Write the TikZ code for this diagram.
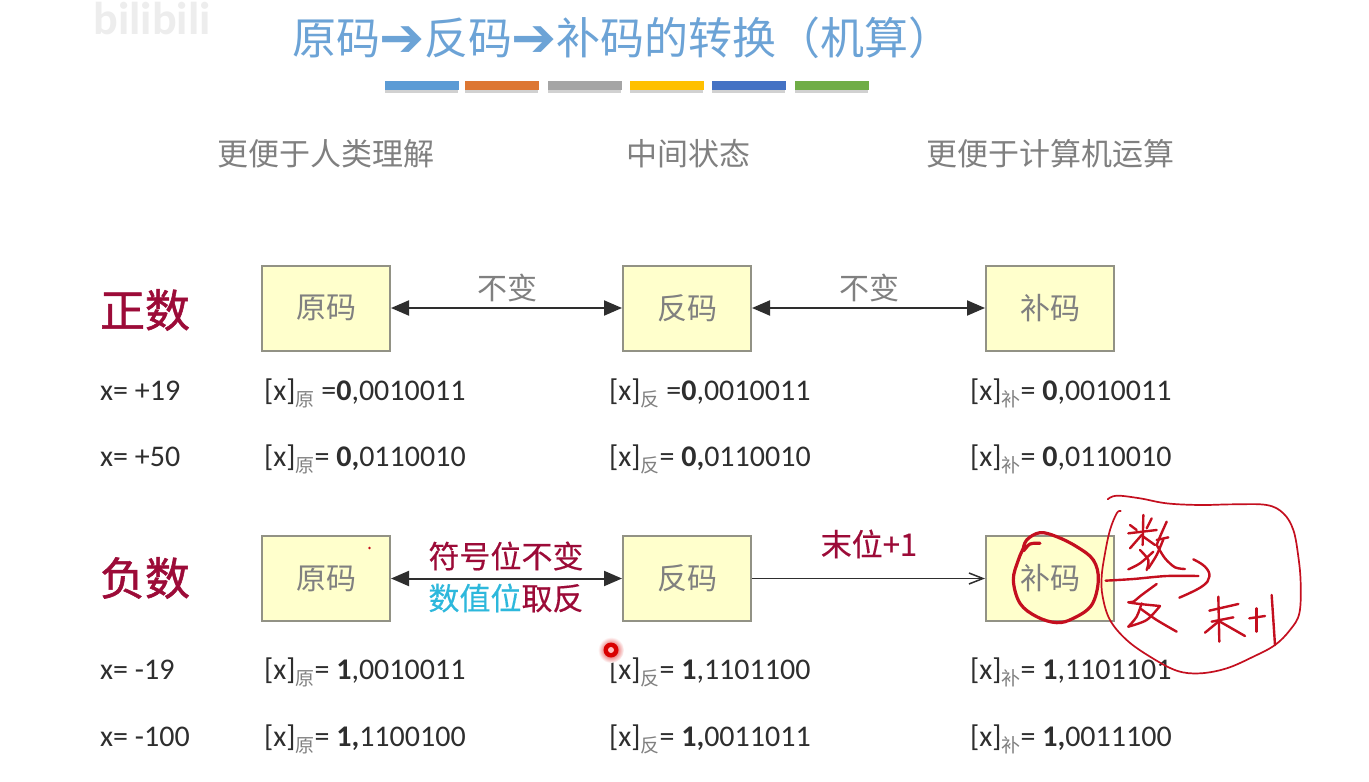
\documentclass[tikz,border=0pt]{standalone}
\usepackage{fontspec}
\setmainfont{Carlito}
\newfontfamily\cjk{Noto Sans CJK SC}
\newfontfamily\cjkm[FakeBold=0.35]{Noto Sans CJK SC}
\newfontfamily\cjkb[FakeBold=1.2]{Noto Sans CJK SC}
\newfontfamily\djv{DejaVu Sans}
\usetikzlibrary{arrows.meta}
\definecolor{titleblue}{HTML}{6CA3D6}
\definecolor{graytxt}{HTML}{808080}
\definecolor{darkred}{HTML}{9C0B38}
\definecolor{cyantxt}{HTML}{2DB8DC}
\definecolor{boxfill}{HTML}{FFFFCC}
\definecolor{boxline}{HTML}{929285}
\definecolor{ink}{HTML}{2E2E2E}
\definecolor{pen}{HTML}{C40F1F}
\newcommand{\sz}[1]{\fontsize{#1}{#1}\selectfont}
\newcommand{\subm}[1]{\raisebox{-6pt}{\sz{19}\cjk\textcolor{graytxt}{#1}}}
\newcommand{\tarr}{\makebox[44pt]{\djv\bfseries\sz{54}\raisebox{-2pt}{➔}}}
\tikzset{
  x=1pt,y=-1pt,
  codebox/.style={draw=boxline,line width=2pt,fill=boxfill,minimum width=128pt,minimum height=85pt,inner sep=0pt,outer sep=1pt,text=graytxt,font=\cjk\sz{30}},
  head/.style={anchor=center,text=graytxt,font=\cjk\sz{31},inner sep=0pt},
  rowlabel/.style={anchor=center,text=darkred,font=\cjkb\sz{45},inner sep=0pt},
  val/.style={anchor=base west,text=ink,font=\sz{30},inner sep=0pt},
  lab/.style={anchor=center,text=graytxt,font=\cjk\sz{30},inner sep=0pt},
  redlab/.style={anchor=center,text=darkred,font=\cjkm\sz{31},inner sep=0pt},
  both/.style={{Triangle[length=18pt,width=15pt]}-{Triangle[length=18pt,width=15pt]},line width=2pt,draw=ink,fill=black},
  thinarr/.style={-{Straight Barb[length=14pt,width=11pt]},line width=1.5pt,draw=ink},
  bar/.style={minimum width=74pt,minimum height=9pt,inner sep=0pt,anchor=north west},
  stroke/.style={draw=pen,line width=2.4pt,line cap=round,line join=round},
}
\begin{document}
\begin{tikzpicture}
\useasboundingbox (0,0) rectangle (1369,782);
\fill[white] (0,0) rectangle (1369,782);
% watermark
\node[anchor=center,text=black!7,font=\bfseries\sz{46},inner sep=0pt] (wm) at (152,19) {bilibili};
% title
\node[anchor=west,text=titleblue,font=\cjk\sz{44},inner sep=0pt] (title) at (292,38) {原码\tarr 反码\tarr 补码的转换（机算）};
% bars
\foreach \xx/\cc [count=\i] in {385/5B9BD5,465/DD7733,548/A5A5A5,630/FFC000,712/4472C4,795/70AD47}{
  \definecolor{barcol}{HTML}{\cc}
  \fill[black!18] (\xx,84) rectangle (\xx+73,93);
  \node[bar,fill=barcol] (bar\i) at (\xx,80.5) {};
}
% column heads
\node[head] (h1) at (326,154) {更便于人类理解};
\node[head] (h2) at (688,154) {中间状态};
\node[head] (h3) at (1050,154) {更便于计算机运算};
% row labels
\node[rowlabel] (pos) at (145,310) {正数};
\node[rowlabel] (neg) at (145,578) {负数};
% boxes
\node[codebox] (a1) at (326,308) {原码};
\node[codebox] (b1) at (687,308) {反码};
\node[codebox] (c1) at (1050,308) {补码};
\node[codebox] (a2) at (326,578.5) {原码};
\node[codebox] (b2) at (687,578.5) {反码};
\node[codebox] (c2) at (1050,578.5) {补码};
% connectors
\draw[both] (a1) -- (b1);
\draw[both] (b1) -- (c1);
\draw[both] (a2) -- (b2);
\draw[thinarr] (b2) -- (c2);
% connector labels
\node[lab] (l1) at (507,288) {不变};
\node[lab] (l2) at (869,288) {不变};
\node[redlab] (l3) at (506,556) {符号位不变};
\node[redlab] (l4) at (506,598) {\textcolor{cyantxt}{数值位}取反};
\node[redlab] (l5) at (869,544) {末位+1};
% values
\node[val] (v11) at (100,400) {x= +19};
\node[val] (v12) at (100,466) {x= +50};
\node[val] (v13) at (100,679) {x= -19};
\node[val] (v14) at (100,746) {x= -100};
\node[val] (v21) at (264,400) {[x]\subm{原} =\textbf{0},0010011};
\node[val] (v22) at (264,466) {[x]\subm{原}= \textbf{0,}0110010};
\node[val] (v23) at (264,679) {[x]\subm{原}= \textbf{1},0010011};
\node[val] (v24) at (264,746) {[x]\subm{原}= \textbf{1,}1100100};
\node[val] (v31) at (609,400) {[x]\subm{反} =\textbf{0},0010011};
\node[val] (v32) at (609,466) {[x]\subm{反}= \textbf{0,}0110010};
\node[val] (v33) at (609,679) {[x]\subm{反}= \textbf{1},1101100};
\node[val] (v34) at (609,746) {[x]\subm{反}= \textbf{1,}0011011};
\node[val] (v41) at (970,400) {[x]\subm{补}= \textbf{0},0010011};
\node[val] (v42) at (970,466) {[x]\subm{补}= \textbf{0},0110010};
\node[val] (v43) at (970,679) {[x]\subm{补}= \textbf{1},1101101};
\node[val] (v44) at (970,746) {[x]\subm{补}= \textbf{1,}0011100};
% laser pointer and speck
\shade[inner color=red!85!black,outer color=white] (611,650) circle (13);
\fill[red!85!black] (611,650) circle (7.5);
\fill[red!25!white] (611,650) circle (3);
\fill[pen] (369.5,548) circle (1.3);
% handwriting, in zoom coordinates
\begin{scope}[shift={(960,480)},x=0.33333pt,y=-0.33333pt]
\draw[stroke,line width=1.7pt] plot[smooth,tension=0.6] coordinates {(443,58)(470,47)(540,55)(620,70)(720,75)(820,73)(920,75)(970,100)(1000,150)(1015,230)(1022,310)(1018,400)(990,450)(945,495)(880,530)(800,565)(720,580)(650,572)(570,530)(500,480)(450,420)(428,350)(425,290)(435,220)(450,150)(470,100)(482,93)};
\draw[stroke,line width=3.2pt] plot[smooth,tension=0.6] coordinates {(240,190)(210,192)(190,212)(200,180)(240,158)(290,170)(350,200)(400,240)(415,300)(395,375)(340,415)(290,428)(230,410)(180,370)(160,300)(175,240)(190,205)};
\draw[stroke] plot[smooth] coordinates {(437,302)(520,297)(620,288)(715,288)};
\draw[stroke] plot[smooth,tension=0.7] coordinates {(700,238)(735,260)(748,290)(725,320)(658,353)};
% shu
\draw[stroke] (510,135)--(530,150);
\draw[stroke] (575,115)--(560,145);
\draw[stroke] (505,160)--(590,150);
\draw[stroke] (550,105)--(548,195);
\draw[stroke] (545,165)--(510,205);
\draw[stroke] (550,170)--(585,195);
\draw[stroke] plot[smooth] coordinates {(540,210)(565,240)(560,270)};
\draw[stroke] plot[smooth] coordinates {(580,215)(540,250)(505,268)};
\draw[stroke] plot[smooth] coordinates {(620,125)(600,170)(590,195)};
\draw[stroke] (590,180)--(625,172);
\draw[stroke] plot[smooth] coordinates {(610,178)(590,225)(565,265)};
\draw[stroke] plot[smooth] coordinates {(590,195)(615,235)(645,262)(675,267)};
% fan
\draw[stroke] plot[smooth] coordinates {(590,312)(545,345)(520,365)(505,367)(540,372)(600,378)};
\draw[stroke] plot[smooth] coordinates {(545,370)(530,410)(505,440)};
\draw[stroke] plot[smooth] coordinates {(540,385)(590,420)(650,455)};
\draw[stroke] plot[smooth] coordinates {(600,378)(560,420)(505,440)};
% mo
\draw[stroke] (748,392)--(835,372);
\draw[stroke] (755,425)--(820,412);
\draw[stroke] (775,350)--(778,485);
\draw[stroke] (775,425)--(735,458);
\draw[stroke] (780,425)--(855,468);
% +1
\draw[stroke] (868,415)--(915,408);
\draw[stroke] (890,385)--(890,455);
\draw[stroke] plot[smooth] coordinates {(935,345)(940,420)(945,495)};
\end{scope}
\end{tikzpicture}
\end{document}
